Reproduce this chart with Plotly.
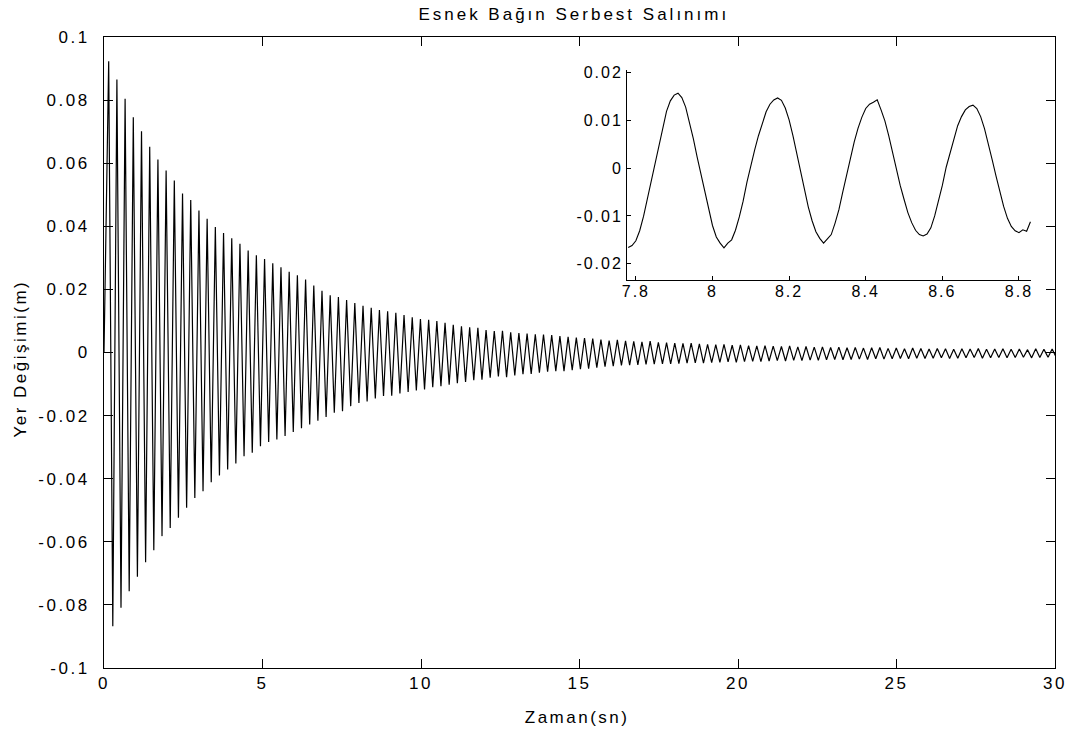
import numpy as np
import plotly.graph_objects as go

# ---------------- data ----------------
# main record: successive peak (max) and trough (min) values of each cycle
period_s = 0.2588          # oscillation period (s), from peak spacing
first_peak_s = 0.148       # time of first peak (s)

peaks = [
    0.0923, 0.0865, 0.0804, 0.0746, 0.0701, 0.0652, 0.0612, 0.0577, 0.0545, 0.0504,
    0.0483, 0.0450, 0.0424, 0.0398, 0.0379, 0.0362, 0.0345, 0.0323, 0.0308, 0.0296,
    0.0283, 0.0270, 0.0256, 0.0245, 0.0231, 0.0212, 0.0196, 0.0181, 0.0176, 0.0166,
    0.0157, 0.0148, 0.0142, 0.0135, 0.0131, 0.0126, 0.0119, 0.0112, 0.0106, 0.0104,
    0.0100, 0.0094, 0.0088, 0.0083, 0.0080, 0.0078, 0.0071, 0.0068, 0.0069, 0.0064,
    0.0062, 0.0060, 0.0058, 0.0057, 0.0055, 0.0052, 0.0050, 0.0047, 0.0046, 0.0044,
    0.0041, 0.0038, 0.0040, 0.0037, 0.0035, 0.0034, 0.0036, 0.0032, 0.0031, 0.0030,
    0.0029, 0.0030, 0.0027, 0.0026, 0.0025, 0.0026, 0.0023, 0.0024, 0.0022, 0.0021,
    0.0022, 0.0020, 0.0019, 0.0021, 0.0018, 0.0019, 0.0017, 0.0018, 0.0016, 0.0017,
    0.0015, 0.0016, 0.0014, 0.0015, 0.0016, 0.0013, 0.0014, 0.0012, 0.0014, 0.0013,
    0.0011, 0.0013, 0.0012, 0.0010, 0.0012, 0.0011, 0.0013, 0.0010, 0.0011, 0.0012,
    0.0010, 0.0011, 0.0009, 0.0012, 0.0010, 0.0011,
]

troughs = [
    -0.0868, -0.0809, -0.0757, -0.0711, -0.0665, -0.0627, -0.0582, -0.0556, -0.0524, -0.0492,
    -0.0461, -0.0440, -0.0411, -0.0390, -0.0371, -0.0352, -0.0329, -0.0318, -0.0297, -0.0284,
    -0.0276, -0.0265, -0.0252, -0.0240, -0.0228, -0.0216, -0.0204, -0.0191, -0.0186, -0.0170,
    -0.0160, -0.0155, -0.0146, -0.0138, -0.0137, -0.0130, -0.0125, -0.0120, -0.0117, -0.0110,
    -0.0107, -0.0102, -0.0097, -0.0093, -0.0088, -0.0086, -0.0080, -0.0076, -0.0078, -0.0073,
    -0.0069, -0.0068, -0.0064, -0.0061, -0.0059, -0.0059, -0.0056, -0.0053, -0.0051, -0.0048,
    -0.0045, -0.0043, -0.0041, -0.0040, -0.0039, -0.0038, -0.0037, -0.0036, -0.0036, -0.0035,
    -0.0034, -0.0033, -0.0034, -0.0032, -0.0031, -0.0030, -0.0031, -0.0029, -0.0028, -0.0029,
    -0.0027, -0.0026, -0.0027, -0.0025, -0.0026, -0.0024, -0.0025, -0.0023, -0.0022, -0.0023,
    -0.0022, -0.0021, -0.0022, -0.0020, -0.0021, -0.0020, -0.0019, -0.0020, -0.0018, -0.0019,
    -0.0018, -0.0017, -0.0019, -0.0018, -0.0017, -0.0016, -0.0018, -0.0017, -0.0016, -0.0017,
    -0.0016, -0.0015, -0.0017, -0.0016, -0.0015, -0.0016,
]

# inset (zoomed view), sampled every 0.01 s from 7.78 s
inset_start_s = 7.78
inset_step_s = 0.01
inset_y = [
    -0.0166, -0.0162, -0.0152, -0.0131, -0.0101, -0.0064, -0.0026, 0.0010, 0.0049, 0.0088,
    0.0119, 0.0141, 0.0153, 0.0157, 0.0148, 0.0128, 0.0097, 0.0062, 0.0023, -0.0014,
    -0.0053, -0.0089, -0.0120, -0.0144, -0.0157, -0.0167, -0.0157, -0.0150, -0.0130, -0.0102,
    -0.0069, -0.0029, 0.0008, 0.0038, 0.0068, 0.0095, 0.0118, 0.0134, 0.0143, 0.0147,
    0.0142, 0.0126, 0.0101, 0.0068, 0.0029, -0.0010, -0.0045, -0.0081, -0.0110, -0.0133,
    -0.0147, -0.0157, -0.0148, -0.0139, -0.0115, -0.0087, -0.0050, -0.0013, 0.0022, 0.0055,
    0.0084, 0.0107, 0.0125, 0.0134, 0.0138, 0.0143, 0.0122, 0.0099, 0.0068, 0.0033,
    -0.0003, -0.0036, -0.0065, -0.0093, -0.0114, -0.0130, -0.0139, -0.0142, -0.0138, -0.0125,
    -0.0100, -0.0070, -0.0036, 0.0002, 0.0033, 0.0063, 0.0089, 0.0108, 0.0122, 0.0129,
    0.0132, 0.0125, 0.0108, 0.0083, 0.0053, 0.0018, -0.0016, -0.0050, -0.0080, -0.0105,
    -0.0122, -0.0131, -0.0135, -0.0129, -0.0132, -0.0112,
]

main_xticks = [0, 5, 10, 15, 20, 25, 30]
main_yticks = [0.1, 0.08, 0.06, 0.04, 0.02, 0, -0.02, -0.04, -0.06, -0.08, -0.1]
main_yticktext = ["0.1", "0.08", "0.06", "0.04", "0.02", "0", "-0.02", "-0.04", "-0.06", "-0.08", "-0.1"]
inset_xticks = [7.8, 8.0, 8.2, 8.4, 8.6, 8.8]
inset_xticktext = ["7.8", "8", "8.2", "8.4", "8.6", "8.8"]
inset_yticks = [0.02, 0.01, 0, -0.01, -0.02]
inset_yticktext = ["0.02", "0.01", "0", "-0.01", "-0.02"]

title_text = "Esnek Bağın Serbest Salınımı"
x_title = "Zaman(sn)"
y_title = "Yer Değişimi(m)"

# ---------------- build series ----------------
k = np.arange(len(peaks))
t_peak = first_peak_s + k * period_s
t_trough = t_peak + period_s / 2
t_main = np.concatenate([[0.0], np.column_stack([t_peak, t_trough]).ravel()])
y_main = np.concatenate([[0.0], np.column_stack([peaks, troughs]).ravel()])

t_inset = np.round(inset_start_s + inset_step_s * np.arange(len(inset_y)), 3)

FONT = "Liberation Sans, Arial, sans-serif"

fig = go.Figure()
fig.add_trace(go.Scatter(x=t_main, y=y_main, mode="lines",
                         line=dict(color="black", width=1.2), showlegend=False,
                         xaxis="x", yaxis="y"))
fig.add_trace(go.Scatter(x=t_inset, y=inset_y, mode="lines",
                         line=dict(color="black", width=1.1), showlegend=False,
                         xaxis="x2", yaxis="y2"))

fig.update_layout(
    width=1077, height=733,
    margin=dict(l=104, r=22, t=37, b=65),
    paper_bgcolor="white", plot_bgcolor="white",
    font=dict(family=FONT, size=17, color="black"),
    title=dict(text=title_text, x=0.494, xref="paper", xanchor="center",
               y=1 - 14 / 733, yref="container", yanchor="middle",
               font=dict(size=17)),
    xaxis=dict(domain=[0, 1], range=[0, 30], tickvals=main_xticks,
               ticks="inside", ticklen=9, tickcolor="black",
               showline=True, linecolor="black", linewidth=1, mirror="allticks",
               showgrid=False, zeroline=False, ticklabelstandoff=0),
    yaxis=dict(domain=[0, 1], range=[-0.1, 0.1], tickvals=main_yticks,
               ticktext=main_yticktext,
               ticks="inside", ticklen=9, tickcolor="black",
               showline=True, linecolor="black", linewidth=1, mirror="allticks",
               showgrid=False, zeroline=False, ticklabelstandoff=10),
    xaxis2=dict(domain=[0.550, 0.975], anchor="y2", range=[7.777, 8.832],
                tickvals=inset_xticks, ticktext=inset_xticktext,
                ticks="inside", ticklen=4, tickcolor="black",
                showline=True, linecolor="black", linewidth=1, mirror=False,
                showgrid=False, zeroline=False, tickfont=dict(size=16),
                ticklabelstandoff=-3),
    yaxis2=dict(domain=[0.615, 0.948], anchor="x2", range=[-0.0234, 0.0206],
                tickvals=inset_yticks, ticktext=inset_yticktext,
                ticks="inside", ticklen=4, tickcolor="black",
                showline=True, linecolor="black", linewidth=1, mirror=False,
                showgrid=False, zeroline=False, tickfont=dict(size=16)),
    annotations=[
        dict(text=x_title, xref="paper", yref="paper", x=0.497, y=(668 - 717) / 631,
             xanchor="center", yanchor="middle", showarrow=False, font=dict(size=17)),
        dict(text=y_title, xref="paper", yref="paper", x=(21 - 104) / 951, y=0.49,
             xanchor="center", yanchor="middle", textangle=-90, showarrow=False,
             font=dict(size=17)),
    ],
)

spacing_css = (
    "var s=document.createElement('style');"
    "s.textContent='.xtick text,.ytick text{letter-spacing:2.5px}"
    " .x2tick text,.y2tick text{letter-spacing:2px}"
    " .gtitle{letter-spacing:3px} .annotation-text{letter-spacing:2.5px}';"
    "document.head.appendChild(s);"
)

fig.write_html("out.html", post_script=spacing_css)
